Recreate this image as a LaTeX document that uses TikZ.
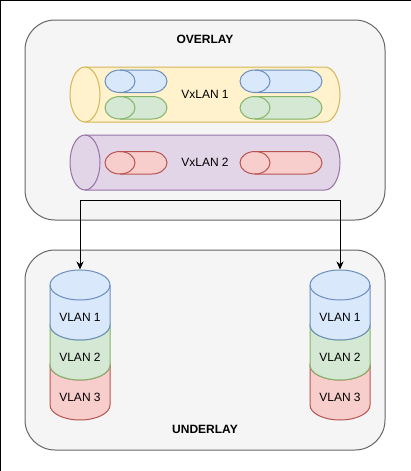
\documentclass[tikz,border=0pt]{standalone}
\usepackage{fontspec}
\setmainfont{Liberation Sans}
\usetikzlibrary{arrows.meta,fit}
\definecolor{contfill}{HTML}{F5F5F5}
\definecolor{contline}{HTML}{666666}
\definecolor{bluefill}{HTML}{DAE8FC}
\definecolor{blueline}{HTML}{6C8EBF}
\definecolor{greenfill}{HTML}{D5E8D4}
\definecolor{greenline}{HTML}{82B366}
\definecolor{redfill}{HTML}{F8CECC}
\definecolor{redline}{HTML}{B85450}
\definecolor{yellowfill}{HTML}{FFF2CC}
\definecolor{yellowline}{HTML}{D6B656}
\definecolor{purplefill}{HTML}{E1D5E7}
\definecolor{purpleline}{HTML}{9673A6}
% horizontal cylinder: name, x0, x1, ytop, ybottom, colour prefix
\newcommand{\hcyl}[6]{%
  \node[name=#1, inner sep=0pt, fit={(#2,-#4) (#3,-#5)}] {};
  \path[fill=#6fill, draw=#6line]
    ({#2+15},-#4) -- ({#3-15},-#4)
    arc[start angle=90, end angle=-90, x radius=15pt, y radius={(#5-#4)/2*1pt}]
    -- ({#2+15},-#5)
    arc[start angle=270, end angle=90, x radius=15pt, y radius={(#5-#4)/2*1pt}]
    -- cycle;
  \draw[#6line] ({#2+15},-#4)
    arc[start angle=90, end angle=-90, x radius=15pt, y radius={(#5-#4)/2*1pt}];
}
% vertical cylinder: name, cx, ytop, colour prefix, label
\newcommand{\vcyl}[5]{%
  \path[fill=#4fill, draw=#4line]
    ({#2-30},{-(#3+15)}) -- ({#2-30},{-(#3+55)})
    arc[start angle=180, end angle=360, x radius=30pt, y radius=15pt]
    -- ({#2+30},{-(#3+15)})
    arc[start angle=0, end angle=180, x radius=30pt, y radius=15pt]
    -- cycle;
  \draw[#4line] ({#2-30},{-(#3+15)})
    arc[start angle=180, end angle=360, x radius=30pt, y radius=15pt];
  \node[name=#1, inner sep=0pt, minimum width=60pt, minimum height=70pt] at (#2,{-(#3+35)}) {};
  \node[lbl, name=#1t] at (#2,{-(#3+47)}) {#5};
}
\begin{document}
\begin{tikzpicture}[x=1pt, y=1pt, line width=1pt,
  container/.style={draw=contline, fill=contfill, rounded corners=30pt,
    inner sep=0pt, minimum width=360pt, minimum height=200pt},
  lbl/.style={font=\fontsize{12pt}{14pt}\selectfont, inner sep=0pt, text=black},
  title/.style={font=\fontsize{12pt}{14pt}\selectfont\bfseries, inner sep=0pt, text=black},
  conn/.style={draw=black, line width=1pt, -{Stealth[length=8pt, width=7pt, inset=2.5pt]}}]
\useasboundingbox (0,0) rectangle (411,-471);
\fill[white] (0,0) rectangle (411,-471);
\draw[black, line width=1pt] (0.5,-471) -- (0.5,-0.5) -- (411,-0.5);

% containers
\node[container, name=overlay] at (205,-120) {};
\node[container, name=underlay] at (205,-350) {};
\node[title, name=overlayt] at (205,-39) {OVERLAY};
\node[title, name=underlayt] at (205,-429) {UNDERLAY};

% VxLAN tunnels
\hcyl{vx1}{70}{340}{67}{122}{yellow}
\hcyl{vx1bl}{105}{167}{70}{92.5}{blue}
\hcyl{vx1gl}{105}{167}{96.5}{119}{green}
\hcyl{vx1br}{240}{322}{70}{92.5}{blue}
\hcyl{vx1gr}{240}{322}{96.5}{119}{green}
\node[lbl, name=vx1t] at (205,-94.5) {VxLAN 1};

\hcyl{vx2}{70}{340}{135}{190}{purple}
\hcyl{vx2rl}{105}{167}{151.5}{174}{red}
\hcyl{vx2rr}{240}{322}{151.5}{174}{red}
\node[lbl, name=vx2t] at (205,-162.5) {VxLAN 2};

% VLAN stacks
\vcyl{lred}{80}{350}{red}{VLAN 3}
\vcyl{lgreen}{80}{310}{green}{VLAN 2}
\vcyl{lblue}{80}{270}{blue}{VLAN 1}
\vcyl{rred}{340}{350}{red}{VLAN 3}
\vcyl{rgreen}{340}{310}{green}{VLAN 2}
\vcyl{rblue}{340}{270}{blue}{VLAN 1}

% connectors
\coordinate (split) at (205,-200);
\draw[conn] (split) -| (lblue.north);
\draw[conn] (split) -| (rblue.north);
\end{tikzpicture}
\end{document}
